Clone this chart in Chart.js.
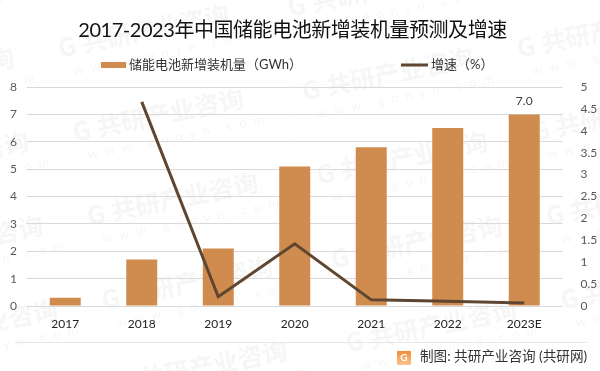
<!DOCTYPE html>
<html>
<head>
<meta charset="utf-8">
<style>
html, body { margin: 0; padding: 0; background: #fff; }
#wrap { width: 600px; height: 371px; }
</style>
<script src="https://cdn.jsdelivr.net/npm/chart.js@4"></script>
</head>
<body>
<div id="wrap"><canvas id="chart" width="600" height="371"></canvas></div>
<script>
var categories = ['2017', '2018', '2019', '2020', '2021', '2022', '2023E'];
var capacity = [0.3, 1.7, 2.1, 5.1, 5.8, 6.5, 7.0];
var growth = [null, 4.66, 0.21, 1.42, 0.14, 0.11, 0.07];
var capacityName = '储能电池新增装机量（GWh）';
var growthName = '增速（%）';
var titleText = '2017-2023年中国储能电池新增装机量预测及增速';
var sourceText = '制图: 共研产业咨询 (共研网)';

var barColor = '#d08c4f';
var lineColor = '#5f4630';
var gridColor = '#d9d9d9';
var fontFamily = 'Lato, "Noto Sans CJK SC", sans-serif';

// watermark sits under everything, repeated on a slanted lattice
var watermark = {
    id: 'watermark',
    beforeDraw: function(chart) {
        var ctx = chart.ctx;
        ctx.save();
        ctx.fillStyle = '#fff';
        ctx.fillRect(0, 0, 600, 371);
        for (var col = -1; col < 4; col++) {
            for (var row = -1; row < 6; row++) {
                var odd = ((col % 2) + 2) % 2;
                var x = 67 + col * 229.5 + row * 14.5;
                var y = 50 + row * 84 - odd * 41;
                ctx.save();
                ctx.translate(x, y);
                ctx.rotate(-11.5 * Math.PI / 180);
                ctx.textBaseline = 'alphabetic';
                ctx.fillStyle = '#f6f6f6';
                ctx.font = 'bold 25px "Noto Sans CJK SC"';
                ctx.fillText('G', -8, 6);
                ctx.fillText('共研产业咨询', 16, 6);
                ctx.font = '13px Lato';
                ctx.letterSpacing = '7px';
                ctx.fillText('www.gonyn.com', 2, 26);
                ctx.restore();
            }
        }
        ctx.restore();
    }
};

// title, legend, footer and the 7.0 label
var annotations = {
    id: 'annotations',
    afterDraw: function(chart) {
        var ctx = chart.ctx;
        ctx.save();
        ctx.textBaseline = 'middle';

        ctx.fillStyle = '#111';
        ctx.textAlign = 'center';
        ctx.font = '20px ' + fontFamily;
        ctx.letterSpacing = '-0.45px';
        ctx.fillText(titleText, 292.5, 31);
        ctx.letterSpacing = '0px';

        ctx.textAlign = 'left';
        ctx.fillStyle = barColor;
        ctx.fillRect(101, 62, 25, 6);
        ctx.fillStyle = lineColor;
        ctx.fillRect(401, 63.5, 27, 3);
        ctx.fillStyle = '#333';
        ctx.font = '13px ' + fontFamily;
        ctx.fillText(capacityName, 129, 65);
        ctx.fillText(growthName, 431, 65);

        // last bar gets its value printed
        var last = chart.getDatasetMeta(1).data[capacity.length - 1];
        ctx.fillStyle = '#404040';
        ctx.font = '12px ' + fontFamily;
        ctx.textAlign = 'center';
        ctx.fillText(capacity[capacity.length - 1].toFixed(1), last.x, last.y - 13);

        // footer
        ctx.strokeStyle = '#e7e7e7';
        ctx.lineWidth = 1;
        ctx.beginPath();
        ctx.moveTo(15, 342.5);
        ctx.lineTo(587, 342.5);
        ctx.stroke();
        var grad = ctx.createLinearGradient(0, 351, 0, 365);
        grad.addColorStop(0, '#f48a3c');
        grad.addColorStop(1, '#fbc58c');
        ctx.fillStyle = grad;
        ctx.fillRect(397, 351, 14, 14);
        ctx.fillStyle = '#fff';
        ctx.font = 'bold 10px ' + fontFamily;
        ctx.fillText('G', 404, 358);
        ctx.textAlign = 'left';
        ctx.fillStyle = '#333';
        ctx.font = '13.6px ' + fontFamily;
        ctx.fillText(sourceText, 420, 357);
        ctx.restore();
    }
};

new Chart(document.getElementById('chart').getContext('2d'), {
    type: 'bar',
    data: {
        labels: categories,
        datasets: [{
            type: 'line',
            label: growthName,
            data: growth,
            yAxisID: 'y1',
            borderColor: lineColor,
            borderWidth: 3,
            pointRadius: 0,
            tension: 0,
            spanGaps: false,
            order: 0
        }, {
            type: 'bar',
            label: capacityName,
            data: capacity,
            yAxisID: 'y',
            backgroundColor: barColor,
            categoryPercentage: 1,
            barPercentage: 0.405,
            order: 1
        }]
    },
    plugins: [watermark, annotations],
    options: {
        responsive: false,
        animation: false,
        devicePixelRatio: 1,
        layout: { padding: { top: 87, bottom: 30, left: 0, right: 0 } },
        plugins: {
            legend: { display: false },
            title: { display: false },
            tooltip: { enabled: false }
        },
        scales: {
            x: {
                grid: { display: false },
                border: { color: gridColor },
                ticks: { color: '#222', font: { size: 12, family: fontFamily }, padding: 3, maxRotation: 0 },
                afterFit: function(axis) { axis.height = 35; }
            },
            y: {
                min: 0,
                max: 8,
                grid: { color: gridColor, drawTicks: false },
                border: { display: false },
                ticks: { stepSize: 1, color: '#595959', font: { size: 12, family: fontFamily }, padding: 10 },
                afterFit: function(axis) { axis.width = 27; }
            },
            y1: {
                position: 'right',
                min: 0,
                max: 5,
                grid: { display: false },
                border: { display: false },
                ticks: {
                    stepSize: 0.5,
                    color: '#595959',
                    font: { size: 12, family: fontFamily },
                    padding: 10,
                    callback: function(v) { return String(v); }
                },
                afterFit: function(axis) { axis.width = 37.5; }
            }
        }
    }
});
</script>
</body>
</html>
